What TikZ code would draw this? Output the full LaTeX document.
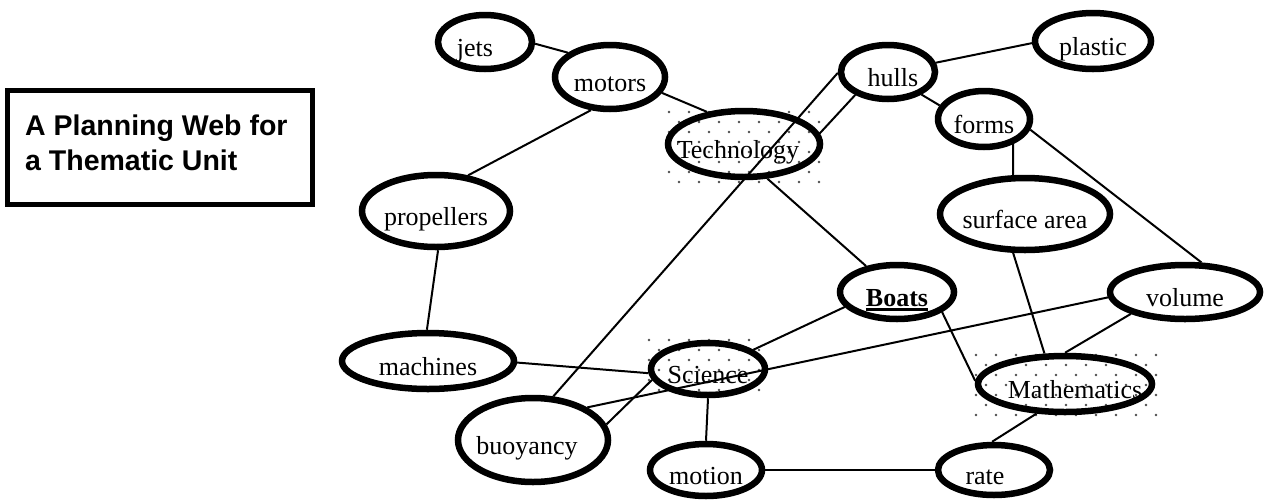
\documentclass[tikz,border=0pt]{standalone}
\usepackage{fontspec}
\setmainfont{Liberation Serif}
\setsansfont{Liberation Sans}
\usetikzlibrary{shapes.geometric}

% thick underline for the central topic
\newcommand\thickul[1]{\setbox0\hbox{#1}\rlap{\rule[-4.5pt]{\wd0}{2.2pt}}\box0}

% staggered field of small dots: x0 y0 x1 y1
\newcommand\dotpatch[4]{%
  \pgfmathsetmacro\dpya{#2}%
  \pgfmathsetmacro\dpyb{#2+10}%
  \foreach \yy [count=\i] in {\dpya,\dpyb,...,#4}{%
    \pgfmathsetmacro\xa{isodd(\i) ? #1 : #1+10}%
    \pgfmathsetmacro\xb{\xa+20}%
    \foreach \xx in {\xa,\xb,...,#3}{\fill[dot] (\xx,\yy) circle (1.3pt);}}}

\begin{document}
\begin{tikzpicture}[x=1pt,y=-1pt,
  bub/.style={ellipse, draw, line width=6.5pt, inner sep=0pt},
  txt/.style={inner sep=0pt, yshift=-5pt, font=\fontsize{26}{30}\selectfont, text height=22pt, text depth=4pt},
  link/.style={line width=2pt},
  dot/.style={fill=black!70},
  ttl/.style={inner sep=0pt, anchor=base west, font=\sffamily\bfseries\fontsize{28.5}{34}\selectfont}]
\useasboundingbox (0,0) rectangle (1265,501);

% title box
\node[draw, line width=5pt, minimum width=305pt, minimum height=114pt, inner sep=0pt] (titlebox) at (160,147.5) {};
\node[ttl] (title1) at (25,135) {A Planning Web for};
\node[ttl] (title2) at (25,170) {a Thematic Unit};

% dotted shading behind the three subject areas
\dotpatch{669}{112}{826}{188}
\dotpatch{649}{340}{766}{396}
\dotpatch{976}{355}{1156}{420}

% topics
\node[bub, minimum width=94pt,  minimum height=54pt, label={[txt,xshift=-10pt]center:jets}] (jets) at (485,42) {};
\node[bub, minimum width=110pt, minimum height=64pt, label={[txt]center:motors}] (motors) at (610,77) {};
\node[bub, minimum width=152pt, minimum height=66pt, label={[txt,xshift=-6pt]center:Technology}] (tech) at (744,144) {};
\node[bub, minimum width=94pt,  minimum height=54pt, label={[txt,xshift=5pt]center:hulls}] (hulls) at (888,72) {};
\node[bub, minimum width=116pt, minimum height=56pt, label={[txt]center:plastic}] (plastic) at (1093,41) {};
\node[bub, minimum width=92pt,  minimum height=56pt, label={[txt]center:forms}] (forms) at (984,119) {};
\node[bub, minimum width=170pt, minimum height=72pt, label={[txt]center:surface area}] (surf) at (1025,214) {};
\node[bub, minimum width=148pt, minimum height=72pt, label={[txt]center:propellers}] (prop) at (436,211) {};
\node[bub, minimum width=114pt, minimum height=54pt, label={[txt]center:{\thickul{\textbf{Boats}}}}] (boats) at (897,292) {};
\node[bub, minimum width=150pt, minimum height=54pt, label={[txt]center:volume}] (vol) at (1185,292) {};
\node[bub, minimum width=172pt, minimum height=56pt, label={[txt]center:machines}] (mach) at (428,361) {};
\node[bub, minimum width=114pt, minimum height=52pt, label={[txt]center:Science}] (sci) at (708,369) {};
\node[bub, minimum width=174pt, minimum height=56pt, label={[txt,xshift=10pt]center:Mathematics}] (math) at (1065,384) {};
\node[bub, minimum width=150pt, minimum height=84pt, label={[txt,xshift=-6pt]center:buoyancy}] (buoy) at (533,440) {};
\node[bub, minimum width=112pt, minimum height=52pt, label={[txt]center:motion}] (motion) at (706,470) {};
\node[bub, minimum width=112pt, minimum height=50pt, label={[txt,xshift=-9pt]center:rate}] (rate) at (994,470) {};

% links
\draw[link] (jets.-2) -- (motors.150);
\draw[link] (motors.-17) -- (tech.139);
\draw[link] (motors.-120) -- (prop.48);
\draw[link] (prop.-87) -- (mach.92);
\draw[link] (mach.-1) -- (sci.184);
\draw[link] (tech.-56) -- (boats.140);
\draw[link] (hulls.11) -- (plastic.182);
\draw[link] (hulls.-34) -- (forms.163);
\draw[link] (hulls.181) -- (buoy.65);
\draw[link] (hulls.215) -- (tech.8);
\draw[link] (forms.-41) -- (surf.107);
\draw[link] (forms.-13) -- (vol.61);
\draw[link] (surf.-107) -- (math.124);
\draw[link] (vol.202) -- (math.90);
\draw[link] (vol.184) -- (buoy.31);
\draw[link] (boats.196) -- (sci.23);
\draw[link] (boats.-24) -- (math.178);
\draw[link] (sci.191) -- (buoy.12);
\draw[link] (sci.-90) -- (motion.90);
\draw[link] (motion.0) -- (rate.180);
\draw[link] (rate.94) -- (math.-134);
\end{tikzpicture}
\end{document}
